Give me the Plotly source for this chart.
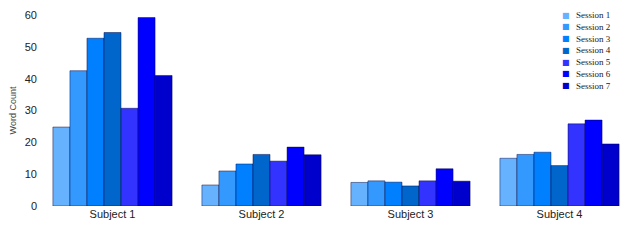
import plotly.graph_objects as go

subjects = ["Subject 1", "Subject 2", "Subject 3", "Subject 4"]
sessions = ["Session 1", "Session 2", "Session 3", "Session 4", "Session 5", "Session 6", "Session 7"]
values = {
    "Session 1": [24.8, 6.6, 7.4, 15.0],
    "Session 2": [42.5, 11.0, 7.9, 16.2],
    "Session 3": [52.7, 13.2, 7.5, 16.9],
    "Session 4": [54.5, 16.2, 6.3, 12.7],
    "Session 5": [30.7, 14.1, 7.9, 25.8],
    "Session 6": [59.2, 18.5, 11.7, 27.0],
    "Session 7": [41.0, 16.1, 7.8, 19.5],
}
colors = ["#66b2ff", "#3399ff", "#0080ff", "#0066cc", "#3333ff", "#0000ff", "#0000cc"]
yticks = [0, 10, 20, 30, 40, 50, 60]

fig = go.Figure()
for name, c in zip(sessions, colors):
    fig.add_trace(go.Bar(
        x=subjects, y=values[name], name=name,
        marker=dict(color=c, line=dict(color="rgba(0,0,60,0.45)", width=1)),
        showlegend=False,
    ))

# compact legend drawn as annotations
for i, (name, c) in enumerate(zip(sessions, colors)):
    fig.add_annotation(
        xref="paper", yref="paper", x=0.8755, y=1.0 - i * 11.8 / 191,
        xanchor="left", yanchor="middle", showarrow=False,
        text="■",
        font=dict(family="DejaVu Sans", size=8, color=c),
    )
    fig.add_annotation(
        xref="paper", yref="paper", x=0.900, y=1.0 - i * 11.8 / 191,
        xanchor="left", yanchor="middle", showarrow=False,
        text=name,
        font=dict(family="Liberation Serif", size=9, color="#222"),
    )

fig.update_layout(
    width=640, height=252,
    margin=dict(l=30, r=14, t=7, b=54, autoexpand=False),
    paper_bgcolor="white", plot_bgcolor="white",
    barmode="group", bargap=0.2, bargroupgap=0,
    font=dict(family="Liberation Sans", size=11, color="#222"),
    xaxis=dict(showgrid=False, showline=False, ticks="", zeroline=False,
               automargin=False, tickfont=dict(size=11)),
    yaxis=dict(range=[0, 60], tickvals=yticks, showgrid=False, showline=False,
               zeroline=False, ticks="", automargin=False, tickfont=dict(size=11),
               title=dict(text="Word Count", font=dict(family="Liberation Sans", size=9, color="#444"), standoff=8)),
)
fig.write_html("out.html")
